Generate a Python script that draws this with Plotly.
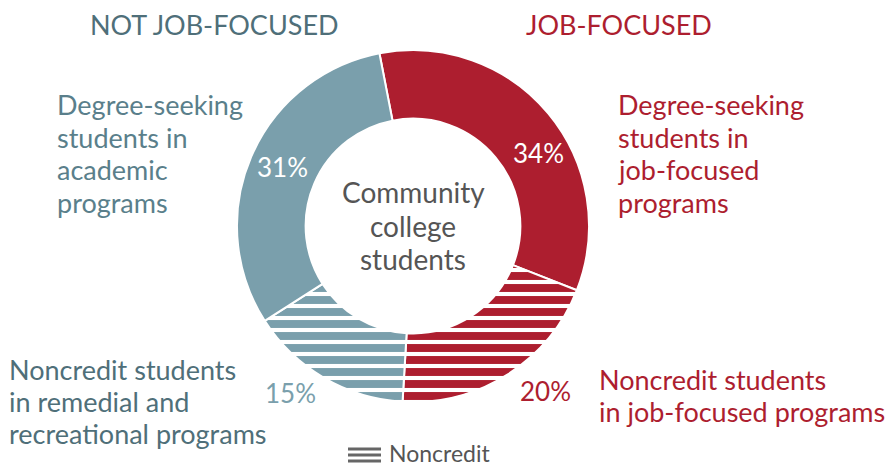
import plotly.graph_objects as go

# ---- data ----
categories = [
    "Degree-seeking students in job-focused programs",
    "Noncredit students in job-focused programs",
    "Noncredit students in remedial and recreational programs",
    "Degree-seeking students in academic programs",
]
label_lines = [
    ["Degree-seeking", "students in", "job-focused", "programs"],
    ["Noncredit students", "in job-focused programs"],
    ["Noncredit students", "in remedial and", "recreational programs"],
    ["Degree-seeking", "students in", "academic", "programs"],
]
shares = [34, 20, 15, 31]
noncredit = [False, True, True, False]
group_titles = ["NOT JOB-FOCUSED", "JOB-FOCUSED"]
center_lines = ["Community", "college", "students"]
legend_label = "Noncredit"

RED = "#AD1E2F"
BLUE = "#7A9FAC"
TEAL_DARK = "#4F6F79"
BLUE_TEXT = "#5A7F8B"
GREY = "#555555"
FONT = "Lato, 'Open Sans', sans-serif"

colors = [RED, RED, BLUE, BLUE]
W, H = 886, 469
cx, cy, R = 413, 226, 176

fig = go.Figure()
fig.add_trace(go.Pie(
    labels=categories,
    values=shares,
    sort=False,
    direction="clockwise",
    rotation=-11,
    hole=0.61,
    textinfo="none",
    hoverinfo="label+percent",
    showlegend=False,
    marker=dict(
        colors=colors,
        line=dict(color="white", width=2),
        pattern=dict(
            shape=["-" if n else "" for n in noncredit],
            fgcolor="white",
            bgcolor=colors,
            fillmode="replace",
            size=12,
            solidity=0.34,
        ),
    ),
    domain=dict(x=[(cx - R) / W, (cx + R) / W], y=[1 - (cy + R) / H, 1 - (cy - R) / H]),
))


def px(x):
    return x / W


def py(y):
    return 1 - y / H


ann = []
PAD = 3  # annotation inner padding


def add_text(text, x, baseline, fs, color, xanchor="left"):
    xx = x - PAD if xanchor == "left" else x
    ann.append(dict(x=px(xx), y=py(baseline - 0.38 * fs), text=text, xanchor=xanchor,
                    yanchor="middle", font=dict(size=fs, color=color)))


def add_lines(lines, x, first_baseline, spacing, fs, color, xanchor="left"):
    for i, t in enumerate(lines):
        add_text(t, x, first_baseline + i * spacing, fs, color, xanchor)


# group titles
add_text(group_titles[0], 214, 35, 27, TEAL_DARK, "center")
add_text(group_titles[1], 527, 35, 27, RED, "left")

# category labels
LFS = 27
add_lines(label_lines[0], 619, 115, 32.6, LFS, RED)
add_lines(label_lines[1], 600, 390, 32, LFS, RED)
add_lines(label_lines[2], 10, 380, 31.7, LFS, TEAL_DARK)
add_lines(label_lines[3], 58, 115, 32.6, LFS, BLUE_TEXT)

# percentages
pct_pos = [(538, 163, "white"), (545, 401, RED), (290, 403, BLUE), (282, 177, "white")]
for v, (x, b, c) in zip(shares, pct_pos):
    add_text(f"{v}%", x, b, 26, c, "center")

# center text
add_lines(center_lines, 413, 203, 33.5, 28, GREY, "center")

# legend (kept fully inside the frame)
ann.append(dict(x=px(390 - PAD), y=0, text=legend_label, xanchor="left", yanchor="bottom",
                font=dict(size=23, color=GREY)))

shapes = []
for yy in (449, 455, 461):
    shapes.append(dict(type="line", xref="paper", yref="paper", x0=px(348), x1=px(381),
                       y0=py(yy), y1=py(yy), line=dict(color="#666666", width=3)))

for a in ann:
    a.update(xref="paper", yref="paper", showarrow=False)

fig.update_layout(
    width=W, height=H,
    margin=dict(l=0, r=0, t=0, b=0),
    paper_bgcolor="white", plot_bgcolor="white",
    font=dict(family=FONT),
    annotations=ann,
    shapes=shapes,
)

fig.write_html(
    "out.html",
    config={"displayModeBar": False},
    post_script="document.body.style.margin='0';document.body.style.overflow='hidden';",
)
